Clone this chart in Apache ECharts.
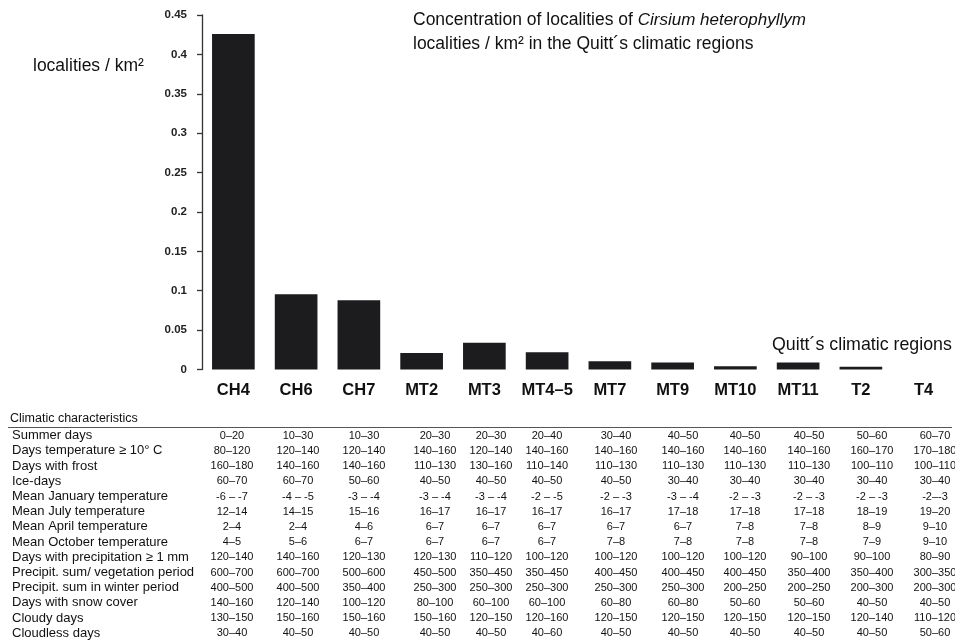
<!DOCTYPE html>
<html>
<head>
<meta charset="utf-8">
<script src="https://cdn.jsdelivr.net/npm/echarts@6/dist/echarts.min.js"></script>
<style>
html,body{margin:0;padding:0;background:#fff;}
#chart{width:955px;height:642px;}
</style>
</head>
<body>
<div id="chart"></div>
<script>
// ---- data ----
const categories = ['CH4','CH6','CH7','MT2','MT3','MT4–5','MT7','MT9','MT10','MT11','T2','T4'];
const density = [0.426, 0.0955, 0.088, 0.021, 0.034, 0.022, 0.0105, 0.009, 0.004, 0.009, 0.0035, 0];

const summerDays     = ['0–20','10–30','10–30','20–30','20–30','20–40','30–40','40–50','40–50','40–50','50–60','60–70'];
const daysTemp10     = ['80–120','120–140','120–140','140–160','120–140','140–160','140–160','140–160','140–160','140–160','160–170','170–180'];
const daysFrost      = ['160–180','140–160','140–160','110–130','130–160','110–140','110–130','110–130','110–130','110–130','100–110','100–110'];
const iceDays        = ['60–70','60–70','50–60','40–50','40–50','40–50','40–50','30–40','30–40','30–40','30–40','30–40'];
const meanJanuary    = ['-6 – -7','-4 – -5','-3 – -4','-3 – -4','-3 – -4','-2 – -5','-2 – -3','-3 – -4','-2 – -3','-2 – -3','-2 – -3','-2–-3'];
const meanJuly       = ['12–14','14–15','15–16','16–17','16–17','16–17','16–17','17–18','17–18','17–18','18–19','19–20'];
const meanApril      = ['2–4','2–4','4–6','6–7','6–7','6–7','6–7','6–7','7–8','7–8','8–9','9–10'];
const meanOctober    = ['4–5','5–6','6–7','6–7','6–7','6–7','7–8','7–8','7–8','7–8','7–9','9–10'];
const daysPrecip     = ['120–140','140–160','120–130','120–130','110–120','100–120','100–120','100–120','100–120','90–100','90–100','80–90'];
const precipVeg      = ['600–700','600–700','500–600','450–500','350–450','350–450','400–450','400–450','400–450','350–400','350–400','300–350'];
const precipWinter   = ['400–500','400–500','350–400','250–300','250–300','250–300','250–300','250–300','200–250','200–250','200–300','200–300'];
const daysSnow       = ['140–160','120–140','100–120','80–100','60–100','60–100','60–80','60–80','50–60','50–60','40–50','40–50'];
const cloudyDays     = ['130–150','150–160','150–160','150–160','120–150','120–160','120–150','120–150','120–150','120–150','120–140','110–120'];
const cloudlessDays  = ['30–40','40–50','40–50','40–50','40–50','40–60','40–50','40–50','40–50','40–50','40–50','50–60'];

const tableRows = [
  ['Summer days', summerDays],
  ['Days temperature ≥ 10° C', daysTemp10],
  ['Days with frost', daysFrost],
  ['Ice-days', iceDays],
  ['Mean January temperature', meanJanuary],
  ['Mean July temperature', meanJuly],
  ['Mean April temperature', meanApril],
  ['Mean October temperature', meanOctober],
  ['Days with precipitation ≥ 1 mm', daysPrecip],
  ['Precipit. sum/ vegetation period', precipVeg],
  ['Precipit. sum in winter period', precipWinter],
  ['Days with snow cover', daysSnow],
  ['Cloudy days', cloudyDays],
  ['Cloudless days', cloudlessDays]
];

// ---- layout (not data) ----
const FONT = 'Liberation Sans';
const colX = [232, 298, 364, 435, 491, 547, 616, 683, 745, 809, 872, 935];
const rowY0 = 435.7, rowStep = 15.2;

const graphics = [];
graphics.push({type:'text', x:33, y:66, style:{text:'localities / km²', font:'17.5px ' + FONT, fill:'#111', verticalAlign:'middle'}});
graphics.push({type:'text', x:413, y:20, style:{
  text:'{n|Concentration of localities of }{i|Cirsium heterophyllym}',
  verticalAlign:'middle',
  rich:{n:{font:'17.5px ' + FONT, fill:'#111'}, i:{font:'italic 17px ' + FONT, fill:'#111'}}
}});
graphics.push({type:'text', x:413, y:44, style:{text:'localities / km² in the Quitt´s climatic regions', font:'17.5px ' + FONT, fill:'#111', verticalAlign:'middle'}});
graphics.push({type:'text', x:772, y:345, style:{text:'Quitt´s climatic regions', font:'17.8px ' + FONT, fill:'#111', verticalAlign:'middle'}});

graphics.push({type:'text', x:10, y:419, style:{text:'Climatic characteristics', font:'12.5px ' + FONT, fill:'#111', verticalAlign:'middle'}});
graphics.push({type:'line', shape:{x1:8, y1:427.5, x2:952, y2:427.5}, style:{stroke:'#555', lineWidth:1}});

tableRows.forEach(function(r, i){
  const y = rowY0 + i * rowStep;
  graphics.push({type:'text', x:12, y:y, style:{text:r[0], font:'13px ' + FONT, fill:'#111', verticalAlign:'middle'}});
  r[1].forEach(function(v, j){
    graphics.push({type:'text', x:colX[j], y:y, style:{text:v, font:'11px ' + FONT, fill:'#111', align:'center', verticalAlign:'middle'}});
  });
});

const chart = echarts.init(document.getElementById('chart'), null, {renderer:'canvas'});
chart.setOption({
  animation:false,
  backgroundColor:'#fff',
  grid:{left:202, top:15, width:763.6, height:354.5, containLabel:false},
  xAxis:{
    type:'category', data:categories,
    axisLine:{show:false}, axisTick:{show:false}, splitLine:{show:false},
    axisLabel:{interval:0, margin:12, color:'#111', fontFamily:FONT, fontWeight:'bold', fontSize:16.5}
  },
  yAxis:{
    type:'value', min:0, max:0.45, interval:0.05,
    axisLine:{show:true, lineStyle:{color:'#333', width:1.3}},
    axisTick:{show:true, length:5, lineStyle:{color:'#333', width:1.3}},
    splitLine:{show:false},
    axisLabel:{margin:15, color:'#222', fontFamily:FONT, fontWeight:'bold', fontSize:11.5}
  },
  series:[{
    type:'bar', data:density, barWidth:'68%',
    itemStyle:{color:'#1c1c1f'}
  }],
  graphic:graphics
});
</script>
</body>
</html>
